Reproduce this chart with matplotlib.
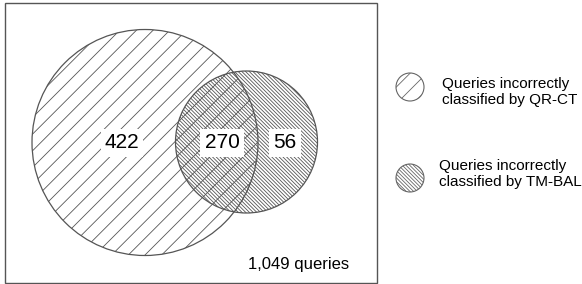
import matplotlib
matplotlib.use("Agg")
import matplotlib.pyplot as plt
from matplotlib.patches import Circle, Rectangle

# Data
region_counts = [422, 270, 56]          # QR-CT only, both, TM-BAL only
total_label = "1,049 queries"
legend_labels = ["Queries incorrectly\nclassified by QR-CT",
                 "Queries incorrectly\nclassified by TM-BAL"]

plt.rcParams['font.family'] = ['Liberation Sans', 'DejaVu Sans']
plt.rcParams['hatch.color'] = '#9a9a9a'
plt.rcParams['hatch.linewidth'] = 0.6

SPARSE = '//'
DENSE = '\\' * 9

fig = plt.figure(figsize=(5.82, 2.84), dpi=100)
ax = fig.add_axes([0, 0, 1, 1])
ax.set_xlim(0, 582)
ax.set_ylim(284, 0)
ax.set_aspect('equal')
ax.axis('off')

# frame
ax.add_patch(Rectangle((5, 3), 372, 280, facecolor='white', edgecolor='#555555', lw=1.0, zorder=0))

# small circle (TM-BAL) dense hatch
small = Circle((246.5, 142), 71, facecolor='white', edgecolor='#555555', lw=0.9,
               hatch=DENSE, zorder=1)
ax.add_patch(small)
# big circle (QR-CT) sparse hatch, transparent face
big = Circle((145, 142.5), 113, facecolor='none', edgecolor='#555555', lw=0.9,
             hatch=SPARSE, zorder=2)
ax.add_patch(big)

bbox = dict(facecolor='white', edgecolor='none', pad=3)
label_pos = [(122, 143), (222, 143), (285, 143)]
for (x, y), v in zip(label_pos, region_counts):
    ax.text(x, y, str(v), fontsize=15, ha='center', va='center', bbox=bbox, zorder=5)

ax.text(299, 265, total_label, fontsize=12, ha='center', va='center', zorder=5)

# legend
ax.add_patch(Circle((410, 87), 14, facecolor='white', edgecolor='#666666', lw=0.8, hatch=SPARSE, zorder=3))
ax.add_patch(Circle((410, 178), 14, facecolor='white', edgecolor='#666666', lw=0.8,
                    hatch=DENSE, zorder=3))
ax.text(442, 92, legend_labels[0], fontsize=11, ha='left', va='center', linespacing=1.1)
ax.text(439, 174, legend_labels[1], fontsize=11, ha='left', va='center', linespacing=1.1)

fig.savefig("out.png", dpi=100)
